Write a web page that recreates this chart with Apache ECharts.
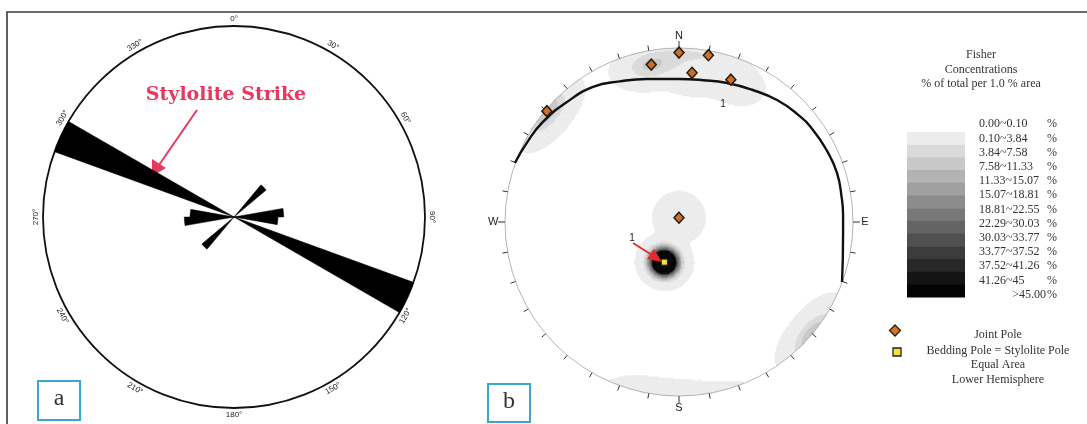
<!DOCTYPE html>
<html><head><meta charset="utf-8">
<script src="https://cdn.jsdelivr.net/npm/echarts@6/dist/echarts.min.js"></script>
<style>html,body{margin:0;padding:0;background:#fff}#c{width:1087px;height:424px}</style>
</head><body><div id="c"></div>
<script>
// ---------- Panel a: rose diagram of stylolite strikes ----------
const roseBinStart = [40, 80, 90, 110, 220, 260, 270, 290];
const roseBinWidth = 10;
const roseFreq = [0.22, 0.26, 0.23, 1.0, 0.22, 0.26, 0.23, 1.0];
const roseLabelAngles = [0, 30, 60, 90, 120, 150, 180, 210, 240, 270, 300, 330];
const roseLabels = roseLabelAngles.map(a => a + '°');

// ---------- Panel b: stereonet (equal area, lower hemisphere) ----------
const jointTrend  = [0, 10, 350, 5, 20, 310, 0];
const jointPlunge = [3, 3, 9, 15, 14, 1, 88];
const jointWeight = [1, 1, 3, 1, 1, 4, 0.6];
const beddingTrend = [200];
const beddingPlunge = [70];
const beddingWeight = [50];
// great circle (bedding plane 1), projected unit coords
const greatCircleX = [-0.943, -0.870, -0.782, -0.650, -0.494, -0.340, -0.184, -0.006, 0.140, 0.276, 0.420, 0.563, 0.680, 0.770, 0.850, 0.908, 0.935, 0.943, 0.943, 0.937];
const greatCircleY = [0.339, 0.462, 0.575, 0.685, 0.776, 0.808, 0.822, 0.822, 0.815, 0.799, 0.760, 0.701, 0.620, 0.529, 0.410, 0.282, 0.140, 0.040, -0.063, -0.345];
const tickTrends = Array.from({length: 36}, (_, i) => i * 10);
const dirNames = ['N', 'E', 'S', 'W'];
const dirTrends = [0, 90, 180, 270];
// Fisher concentration legend
const concLabels = ['0.00~0.10', '0.10~3.84', '3.84~7.58', '7.58~11.33', '11.33~15.07', '15.07~18.81', '18.81~22.55', '22.29~30.03', '30.03~33.77', '33.77~37.52', '37.52~41.26', '41.26~45', '>45.00'];
const concBreaks = [0.10, 3.84, 7.58, 11.33, 15.07, 18.81, 22.55, 30.03, 33.77, 37.52, 41.26, 45];
const concColors = ['#ececec', '#dadada', '#c8c8c8', '#b3b3b3', '#a0a0a0', '#8c8c8c', '#787878', '#646464', '#505050', '#3c3c3c', '#282828', '#141414', '#040404'];
const markerLegend = ['Joint Pole', 'Bedding Pole = Stylolite Pole', 'Equal Area', 'Lower Hemisphere'];

const D2R = Math.PI / 180;
function project(trend, plunge) {
  const r = Math.SQRT2 * Math.sin((90 - plunge) / 2 * D2R);
  return [r * Math.sin(trend * D2R), r * Math.cos(trend * D2R)];
}
function vec(trend, plunge) {
  const t = trend * D2R, p = plunge * D2R;
  return [Math.cos(p) * Math.cos(t), Math.cos(p) * Math.sin(t), Math.sin(p)];
}

// density grid (Fisher kernel on axial data)
const N = 290, JOINT_K = 124, BED_K = 260, AMP = 3;
const poles = jointTrend.map((t, i) => ({v: vec(t, jointPlunge[i]), w: jointWeight[i], k: JOINT_K}))
  .concat(beddingTrend.map((t, i) => ({v: vec(t, beddingPlunge[i]), w: beddingWeight[i], k: BED_K})));
const cats = Array.from({length: N}, (_, i) => i);
const heat = [];
for (let i = 0; i < N; i++) {
  for (let j = 0; j < N; j++) {
    const x = -1 + (i + 0.5) * 2 / N, y = -1 + (j + 0.5) * 2 / N;
    const r = Math.hypot(x, y);
    if (r > 1) continue;
    const p = 90 - 2 * Math.asin(r / Math.SQRT2) / D2R;
    const t = Math.atan2(x, y) / D2R;
    const v = vec(t, p);
    let d = 0;
    poles.forEach(o => {
      const c = Math.abs(v[0] * o.v[0] + v[1] * o.v[1] + v[2] * o.v[2]);
      d += o.w * AMP * Math.exp(o.k * (c - 1));
    });
    if (d >= concBreaks[0]) heat.push([i, j, d]);
  }
}
const pieces = [];
for (let k = 0; k < concBreaks.length; k++) {
  const colIdx = k < concBreaks.length - 1 ? k : concColors.length - 1;
  pieces.push({min: concBreaks[k], max: k + 1 < concBreaks.length ? concBreaks[k + 1] : 1e9, color: concColors[colIdx]});
}

const serif = '"Liberation Serif", "DejaVu Serif", serif';
const sans = '"Liberation Sans", Arial, sans-serif';
const pink = '#e8385f';

const graphic = [];
graphic.push({type: 'rect', z: 0, shape: {x: 7, y: 12, width: 1100, height: 440}, style: {fill: null, stroke: '#3a3a3a', lineWidth: 1.6}});
// Stylolite Strike annotation
graphic.push({type: 'text', x: 226, y: 95, style: {text: 'Stylolite Strike', font: 'bold 19px "DejaVu Serif", serif', fill: pink, align: 'center', verticalAlign: 'middle'}});
graphic.push({type: 'line', shape: {x1: 197, y1: 110, x2: 159, y2: 165}, style: {stroke: pink, lineWidth: 2}});
graphic.push({type: 'polygon', shape: {points: [[152, 176], [152, 159], [166, 168]]}, style: {fill: pink}});
// panel boxes
graphic.push({type: 'rect', shape: {x: 38, y: 381, width: 42, height: 39}, style: {fill: '#fff', stroke: '#3ca7cc', lineWidth: 2}});
graphic.push({type: 'text', x: 59, y: 399, style: {text: 'a', font: '24px ' + serif, fill: '#333', align: 'center', verticalAlign: 'middle'}});
graphic.push({type: 'rect', shape: {x: 488, y: 384, width: 42, height: 38}, style: {fill: '#fff', stroke: '#3ca7cc', lineWidth: 2}});
graphic.push({type: 'text', x: 509, y: 402, style: {text: 'b', font: '24px ' + serif, fill: '#333', align: 'center', verticalAlign: 'middle'}});
// red arrow to bedding pole & labels "1"
graphic.push({type: 'line', z: 10, shape: {x1: 633, y1: 243, x2: 652, y2: 255}, style: {stroke: '#e42a2a', lineWidth: 1.8}});
graphic.push({type: 'polygon', z: 10, shape: {points: [[662, 262], [647, 259], [654, 249]]}, style: {fill: '#e42a2a'}});
graphic.push({type: 'text', z: 10, x: 632, y: 238, style: {text: '1', font: '10px ' + sans, fill: '#222', align: 'center', verticalAlign: 'middle'}});
graphic.push({type: 'text', z: 10, x: 723, y: 104, style: {text: '1', font: '10px ' + sans, fill: '#222', align: 'center', verticalAlign: 'middle'}});
// legend title
['Fisher', 'Concentrations', '% of total per 1.0 % area'].forEach((t, i) => {
  graphic.push({type: 'text', x: 981, y: 55 + i * 14.5, style: {text: t, font: '12px ' + serif, fill: '#333', align: 'center', verticalAlign: 'middle'}});
});
// legend bar
concColors.forEach((c, i) => {
  graphic.push({type: 'rect', shape: {x: 907, y: 132 + i * 12.7, width: 58, height: 13.2}, style: {fill: c}});
});
concLabels.forEach((t, i) => {
  const y = 124.3 + i * 14.2;
  const last = i === concLabels.length - 1;
  graphic.push({type: 'text', x: last ? 1046 : 979, y: y, style: {text: t, font: '12px ' + serif, fill: '#333', align: last ? 'right' : 'left', verticalAlign: 'middle'}});
  graphic.push({type: 'text', x: 1057, y: y, style: {text: '%', font: '12px ' + serif, fill: '#333', align: 'right', verticalAlign: 'middle'}});
});
// marker legend
graphic.push({type: 'polygon', shape: {points: [[895, 325], [900.5, 330.5], [895, 336], [889.5, 330.5]]}, style: {fill: '#d2742c', stroke: '#2a1a08', lineWidth: 1.3}});
graphic.push({type: 'rect', shape: {x: 893, y: 348, width: 8, height: 8}, style: {fill: '#f2e13a', stroke: '#222', lineWidth: 1.3}});
markerLegend.forEach((t, i) => {
  graphic.push({type: 'text', x: 998, y: [335, 350.5, 365, 380][i], style: {text: t, font: '12px ' + serif, fill: '#333', align: 'center', verticalAlign: 'middle'}});
});

const option = {
  animation: false,
  polar: {center: [234, 217], radius: 191},
  angleAxis: {type: 'value', min: 0, max: 360, startAngle: 90, clockwise: true,
    axisLine: {lineStyle: {color: '#111', width: 1.8}}, axisTick: {show: false}, axisLabel: {show: false}, splitLine: {show: false}},
  radiusAxis: {min: 0, max: 1, axisLine: {show: false}, axisTick: {show: false}, axisLabel: {show: false}, splitLine: {show: false}},
  grid: [{left: 505, top: 48, width: 348, height: 348}, {left: 505, top: 48, width: 348, height: 348}],
  xAxis: [{type: 'category', gridIndex: 0, data: cats, show: false},
          {type: 'value', gridIndex: 1, min: -1, max: 1, show: false}],
  yAxis: [{type: 'category', gridIndex: 0, data: cats, show: false},
          {type: 'value', gridIndex: 1, min: -1, max: 1, show: false}],
  visualMap: {type: 'piecewise', show: false, seriesIndex: 2, dimension: 2, pieces: pieces},
  graphic: graphic,
  series: [
    { // rose petals
      type: 'custom', coordinateSystem: 'polar', encode: {radius: 2, angle: 0},
      data: roseBinStart.map((s, i) => [s, s + roseBinWidth, roseFreq[i]]),
      renderItem: (params, api) => {
        const a0 = api.value(0), a1 = api.value(1), v = api.value(2);
        const pts = [api.coord([0, a0])];
        for (let a = a0; a <= a1 + 1e-9; a += 0.5) pts.push(api.coord([v, a]));
        return {type: 'polygon', shape: {points: pts}, style: {fill: '#000', stroke: '#000', lineWidth: 0.5}};
      }
    },
    { // rose degree labels
      type: 'custom', coordinateSystem: 'polar', encode: {angle: 0},
      data: roseLabelAngles.map(a => [a]),
      renderItem: (params, api) => {
        const a = api.value(0);
        const p = api.coord([1.037, a]);
        const rot = (a <= 90 || a >= 270) ? (a > 180 ? a - 360 : a) : a - 180;
        return {type: 'text', x: p[0], y: p[1], rotation: -rot * D2R,
          style: {text: roseLabels[params.dataIndex], font: '8px ' + sans, fill: '#222', align: 'center', verticalAlign: 'middle'}};
      }
    },
    { // Fisher density
      type: 'heatmap', xAxisIndex: 0, yAxisIndex: 0, data: heat, progressive: 0,
      itemStyle: {borderWidth: 0}, emphasis: {disabled: true}
    },
    { // primitive circle
      type: 'custom', xAxisIndex: 1, yAxisIndex: 1, data: [[0, 0]], z: 3,
      renderItem: (params, api) => {
        const c = api.coord([0, 0]), e = api.coord([1, 0]);
        return {type: 'circle', shape: {cx: c[0], cy: c[1], r: e[0] - c[0]}, style: {fill: null, stroke: '#b5b5b5', lineWidth: 1}};
      }
    },
    { // ticks
      type: 'custom', xAxisIndex: 1, yAxisIndex: 1, data: tickTrends.map(t => [t]), z: 3,
      renderItem: (params, api) => {
        const t = api.value(0) * D2R;
        const main = api.value(0) % 90 === 0;
        const p1 = api.coord([Math.sin(t), Math.cos(t)]);
        const p2 = api.coord([(main ? 1.04 : 1.03) * Math.sin(t), (main ? 1.04 : 1.03) * Math.cos(t)]);
        return {type: 'line', shape: {x1: p1[0], y1: p1[1], x2: p2[0], y2: p2[1]}, style: {stroke: '#333', lineWidth: 1}};
      }
    },
    { // N E S W
      type: 'custom', xAxisIndex: 1, yAxisIndex: 1, data: dirTrends.map(t => [t]), z: 3,
      renderItem: (params, api) => {
        const t = api.value(0) * D2R;
        const p = api.coord([1.068 * Math.sin(t), 1.068 * Math.cos(t)]);
        return {type: 'text', x: p[0], y: p[1], style: {text: dirNames[params.dataIndex], font: '11px ' + sans, fill: '#222', align: 'center', verticalAlign: 'middle'}};
      }
    },
    { // great circle
      type: 'line', xAxisIndex: 1, yAxisIndex: 1, z: 4, smooth: true, symbol: 'none',
      data: greatCircleX.map((x, i) => [x, greatCircleY[i]]),
      lineStyle: {color: '#111', width: 2.4}
    },
    { // joint poles
      type: 'scatter', xAxisIndex: 1, yAxisIndex: 1, z: 5, symbol: 'diamond', symbolSize: [10, 11],
      data: jointTrend.map((t, i) => project(t, jointPlunge[i])),
      itemStyle: {color: '#c8702c', borderColor: '#2a1a08', borderWidth: 1.5, opacity: 1}
    },
    { // bedding pole
      type: 'scatter', xAxisIndex: 1, yAxisIndex: 1, z: 6, symbol: 'rect', symbolSize: 6,
      data: beddingTrend.map((t, i) => project(t, beddingPlunge[i])),
      itemStyle: {color: '#f5e33a', borderColor: '#3a2a00', borderWidth: 1, opacity: 1}
    }
  ]
};
const chart = echarts.init(document.getElementById('c'));
chart.setOption(option);
</script></body></html>
